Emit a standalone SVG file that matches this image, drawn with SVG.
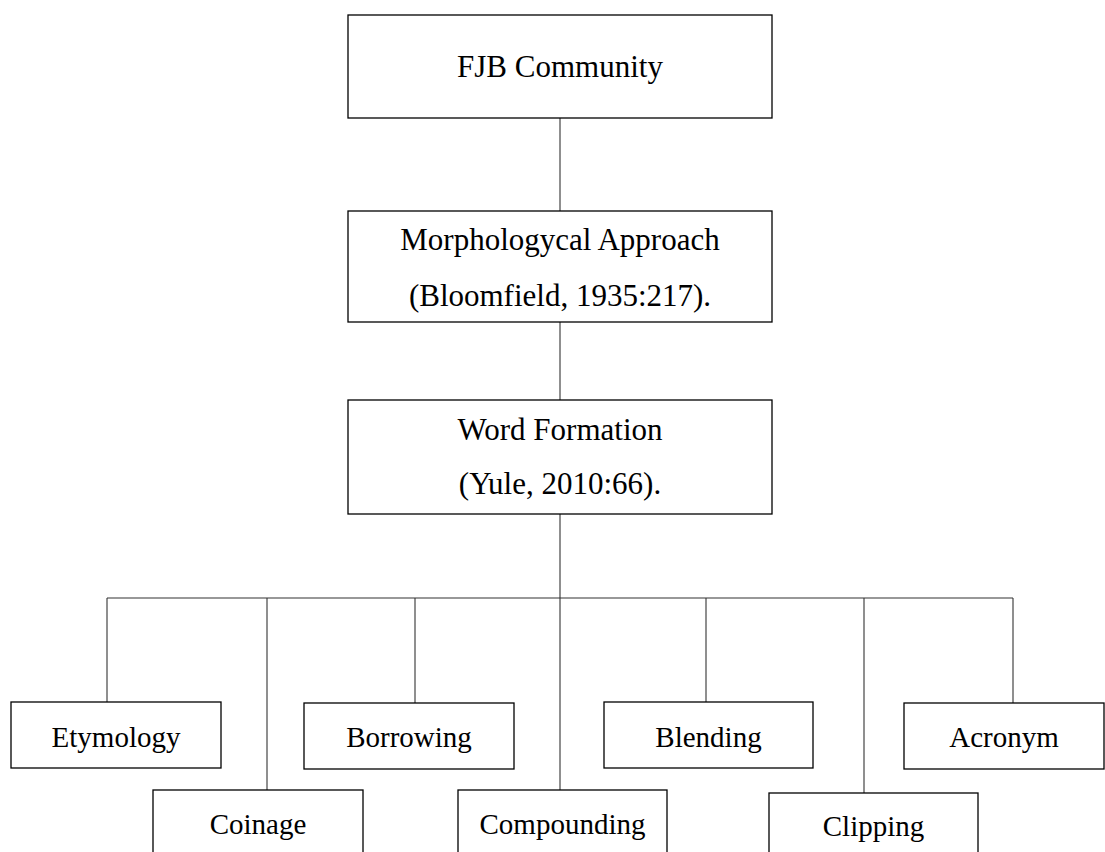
<svg xmlns="http://www.w3.org/2000/svg" width="1105" height="852" viewBox="0 0 1105 852">
<style>
.box{fill:#fff;stroke:#000;stroke-width:1.3}
.t{font-family:"Liberation Serif","Times New Roman",serif;fill:#000;text-anchor:middle}
.big{font-size:31px}
.sm{font-size:29px}
.c{stroke:#333;stroke-width:1.1;fill:none}
</style>
<rect width="1105" height="852" fill="#fff"/>
<g id="connectors">
<line class="c" x1="560" y1="118" x2="560" y2="211"/>
<line class="c" x1="560" y1="322" x2="560" y2="400"/>
<line class="c" x1="560" y1="514" x2="560" y2="598"/>
<line class="c" x1="107" y1="598" x2="1013" y2="598"/>
<line class="c" x1="107" y1="598" x2="107" y2="702"/>
<line class="c" x1="267" y1="598" x2="267" y2="790"/>
<line class="c" x1="415" y1="598" x2="415" y2="703"/>
<line class="c" x1="560" y1="598" x2="560" y2="790"/>
<line class="c" x1="706" y1="598" x2="706" y2="702"/>
<line class="c" x1="864" y1="598" x2="864" y2="793"/>
<line class="c" x1="1013" y1="598" x2="1013" y2="703"/>
</g>
<g id="fjb">
<rect class="box" x="348" y="15" width="424" height="103"/>
<text class="t big" x="560" y="77">FJB Community</text>
</g>
<g id="morph">
<rect class="box" x="348" y="211" width="424" height="111"/>
<text class="t big" x="560" y="250">Morphologycal Approach</text>
<text class="t big" x="560" y="306">(Bloomfield, 1935:217).</text>
</g>
<g id="word">
<rect class="box" x="348" y="400" width="424" height="114"/>
<text class="t big" x="560" y="440">Word Formation</text>
<text class="t big" x="560" y="494">(Yule, 2010:66).</text>
</g>
<g id="etymology">
<rect class="box" x="11" y="702" width="210" height="66"/>
<text class="t sm" x="116" y="747">Etymology</text>
</g>
<g id="coinage">
<rect class="box" x="153" y="790" width="210" height="70"/>
<text class="t sm" x="258" y="834">Coinage</text>
</g>
<g id="borrowing">
<rect class="box" x="304" y="703" width="210" height="66"/>
<text class="t sm" x="409" y="747">Borrowing</text>
</g>
<g id="compounding">
<rect class="box" x="458" y="790" width="209" height="70"/>
<text class="t sm" x="562.5" y="834">Compounding</text>
</g>
<g id="blending">
<rect class="box" x="604" y="702" width="209" height="66"/>
<text class="t sm" x="708.5" y="747">Blending</text>
</g>
<g id="clipping">
<rect class="box" x="769" y="793" width="209" height="70"/>
<text class="t sm" x="873.5" y="836">Clipping</text>
</g>
<g id="acronym">
<rect class="box" x="904" y="703" width="200" height="66"/>
<text class="t sm" x="1004" y="747">Acronym</text>
</g>
</svg>
